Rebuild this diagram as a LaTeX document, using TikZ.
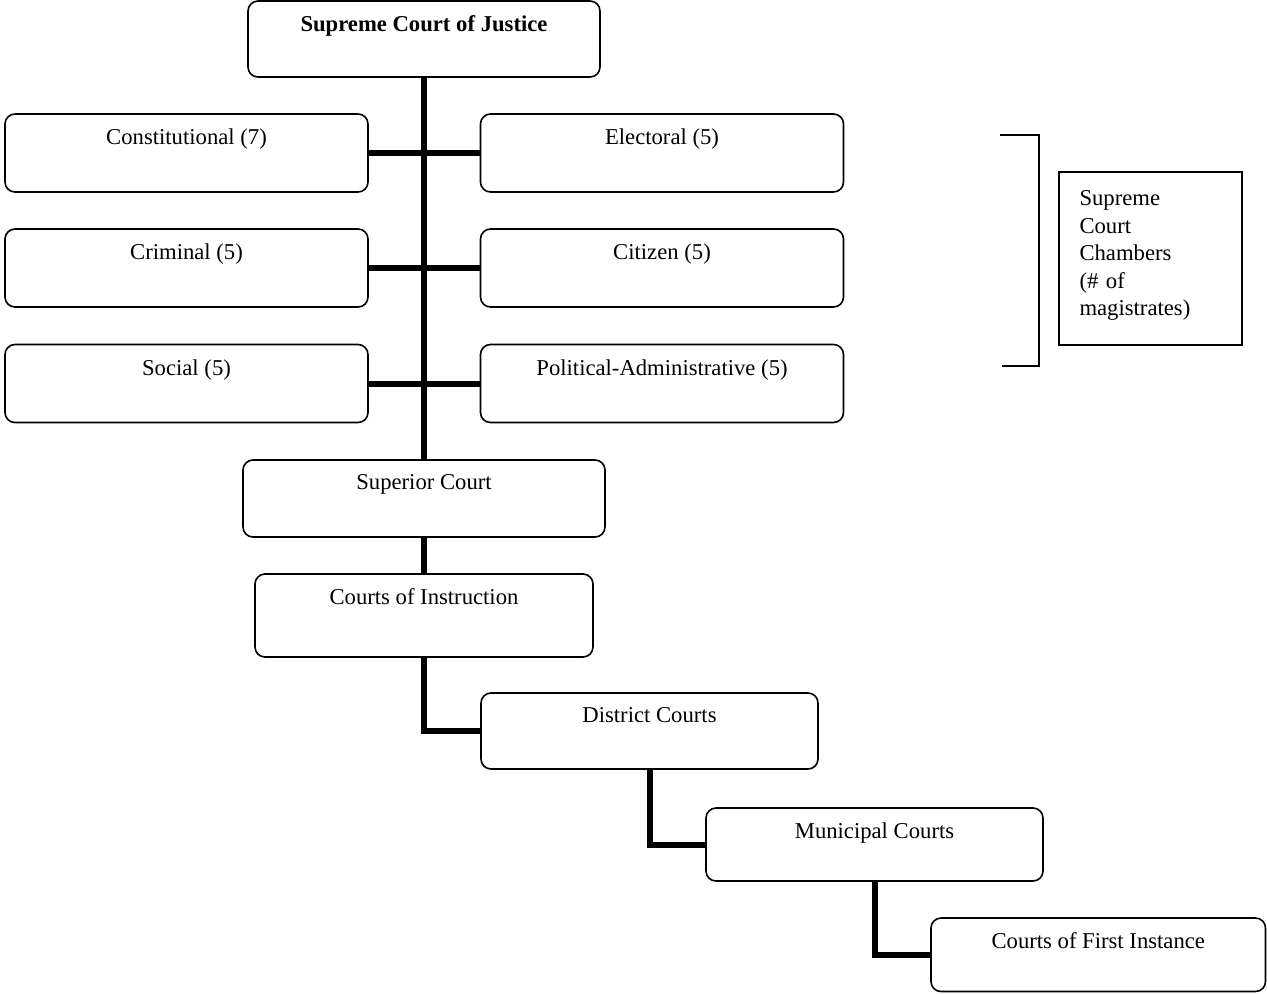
\documentclass[tikz,border=0pt]{standalone}
\usepackage{fontspec}
\setmainfont{Liberation Serif}
\usepackage{tikz}

\begin{document}
\begin{tikzpicture}[x=0.75pt,y=0.75pt,yscale=-1,xscale=1,
  court/.style={draw, line width=1.2pt, rounded corners=7.5pt, inner sep=0pt},
  title/.style={anchor=north, inner sep=11.5pt, font=\fontsize{17}{20.6}\selectfont},
  link/.style={line width=4.5pt},
  bracket/.style={line width=1.1pt}]
%set diagram left start at 0, and has height of 993
\useasboundingbox (0,0) rectangle (1267,993);

%Shape: Rounded Rect [top]
\node [court, minimum width=264pt, minimum height=57pt,
  label={[title]north:\textbf{Supreme Court of Justice}}] (sup) at (424,39) {};

%Shape: Rounded Rect [chambers]
\node [court, minimum width=272.25pt, minimum height=58.5pt,
  label={[title]north:Constitutional (7)}] (const) at (186.5,153) {};
\node [court, minimum width=272.25pt, minimum height=58.5pt,
  label={[title]north:Electoral (5)}] (elect) at (662,153) {};
\node [court, minimum width=272.25pt, minimum height=58.5pt,
  label={[title]north:Criminal (5)}] (crim) at (186.5,268) {};
\node [court, minimum width=272.25pt, minimum height=58.5pt,
  label={[title]north:Citizen (5)}] (citiz) at (662,268) {};
\node [court, minimum width=272.25pt, minimum height=58.5pt,
  label={[title]north:Social (5)}] (social) at (186.5,383.5) {};
\node [court, minimum width=272.25pt, minimum height=58.5pt,
  label={[title]north:Political-Administrative (5)}] (poladm) at (662,383.5) {};

%Shape: Rounded Rect [lower courts]
\node [court, minimum width=271.5pt, minimum height=57.75pt,
  label={[title]north:Superior Court}] (superior) at (424,498.5) {};
\node [court, minimum width=253.5pt, minimum height=62.25pt,
  label={[title]north:Courts of Instruction}] (instr) at (424,615.5) {};
\node [court, minimum width=252.75pt, minimum height=57pt,
  label={[title]north:District Courts}] (district) at (649.5,731) {};
\node [court, minimum width=252.75pt, minimum height=54.75pt,
  label={[title]north:Municipal Courts}] (municip) at (874.5,844.5) {};
\node [court, minimum width=250.9pt, minimum height=55.1pt,
  label={[title]north:Courts of First Instance}] (firstinst) at (1098.25,954.75) {};

%Straight Lines [spine]
\draw [link] (sup.south) -- (superior.north) ;
\draw [link] (superior.south) -- (instr.north) ;
\draw [link] (const.east) -- (elect.west) ;
\draw [link] (crim.east) -- (citiz.west) ;
\draw [link] (social.east) -- (poladm.west) ;
%Straight Lines [steps]
\draw [link] (instr.south) |- (district.west) ;
\draw [link] (district.south) |- (municip.west) ;
\draw [link] (municip.south) |- (firstinst.west) ;

%Straight Lines [bracket]
\draw [bracket] (1000,135) -- (1039,135) -- (1039,366) -- (1002,366) ;
% Text Node
\node [draw, line width=1.1pt, inner sep=0pt, minimum width=137.25pt, minimum height=129.75pt,
  label={[anchor=north west, inner xsep=15.75pt, inner ysep=14.5pt, text width=110pt, align=left,
    font=\fontsize{17}{20.6}\selectfont]north west:Supreme\\Court\\Chambers\\(\# of\\magistrates)}]
  (chambers) at (1150.5,258.5) {};

\end{tikzpicture}
\end{document}
